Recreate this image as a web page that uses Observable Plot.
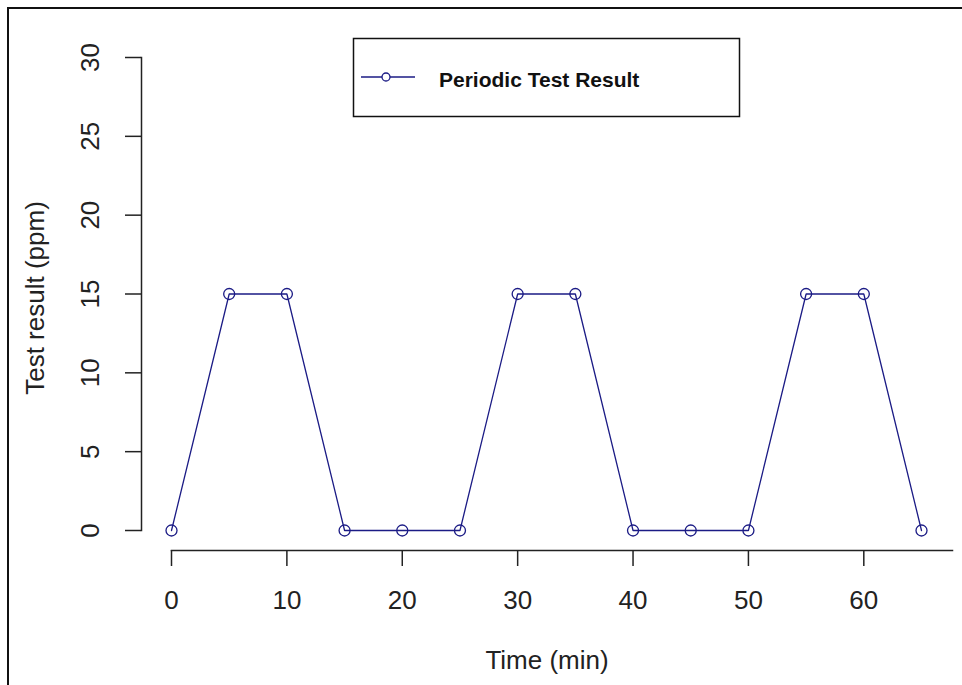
<!DOCTYPE html>
<html>
<head>
<meta charset="utf-8">
<script src="https://cdn.jsdelivr.net/npm/d3@7"></script>
<script src="https://cdn.jsdelivr.net/npm/@observablehq/plot@0.6"></script>
<style>
  html, body { margin: 0; padding: 0; background: #fff; }
  #chart svg { display: block; }
</style>
</head>
<body>
<div id="chart"></div>
<script>
const times = [0, 5, 10, 15, 20, 25, 30, 35, 40, 45, 50, 55, 60, 65];
const results = [0, 15, 15, 0, 0, 0, 15, 15, 0, 0, 0, 15, 15, 0];
const xTicks = [0, 10, 20, 30, 40, 50, 60];
const yTicks = [0, 5, 10, 15, 20, 25, 30];
const xLabel = "Time (min)";
const yLabel = "Test result (ppm)";
const seriesName = "Periodic Test Result";

const data = times.map((t, i) => ({time: t, result: results[i]}));
const lineColor = "#1b1b85";
const ink = "#222";

function border(index, scales, values, dims) {
  const g = d3.create("svg:g");
  g.append("path")
    .attr("d", `M8,${dims.height} V8 H${dims.width}`)
    .attr("fill", "none")
    .attr("stroke", "#111")
    .attr("stroke-width", 2);
  return g.node();
}

function legend(index, scales, values, dims) {
  const g = d3.create("svg:g");
  g.append("rect")
    .attr("x", 353.5).attr("y", 38.5).attr("width", 386).attr("height", 78)
    .attr("fill", "white").attr("stroke", "#111").attr("stroke-width", 1.5);
  g.append("line")
    .attr("x1", 361).attr("x2", 415).attr("y1", 77).attr("y2", 77)
    .attr("stroke", lineColor).attr("stroke-width", 1.5);
  g.append("circle")
    .attr("cx", 386).attr("cy", 77).attr("r", 4)
    .attr("fill", "white").attr("stroke", lineColor).attr("stroke-width", 1.3);
  g.append("text")
    .attr("x", 439).attr("y", 81)
    .attr("text-anchor", "start")
    .attr("font-weight", "bold").attr("font-size", 21)
    .attr("dominant-baseline", "middle")
    .attr("fill", "#111")
    .text(seriesName);
  return g.node();
}

const chart = Plot.plot({
  width: 962,
  height: 685,
  marginLeft: 141,
  marginRight: 10,
  marginTop: 57,
  marginBottom: 135,
  x: {domain: [0, 65], range: [171, 921]},
  y: {domain: [0, 30], range: [530, 57]},
  style: {fontFamily: "'Liberation Sans', Arial, sans-serif", fontSize: "26px", color: ink, background: "white", overflow: "visible"},
  marks: [
    border,
    Plot.frame({anchor: "bottom", insetLeft: 30, stroke: ink, strokeWidth: 1.5}),
    Plot.frame({anchor: "left", insetBottom: 20, stroke: ink, strokeWidth: 1.5}),
    Plot.axisX(xTicks, {anchor: "bottom", tickSize: 16, tickPadding: 24, label: null, stroke: ink, strokeWidth: 1.5, fill: ink}),
    Plot.axisY(yTicks, {anchor: "left", tickSize: 16, tickFormat: () => "", label: null, stroke: ink, strokeWidth: 1.5}),
    Plot.text(yTicks, {y: d => d, text: d => String(d), frameAnchor: "left", textAnchor: "middle", dx: -51, rotate: -90, fill: ink}),
    Plot.text([xLabel], {text: d => d, frameAnchor: "bottom", dy: 118, fill: ink}),
    Plot.text([yLabel], {text: d => d, frameAnchor: "left", textAnchor: "middle", dx: -106, dy: -6, rotate: -90, fill: ink}),
    Plot.line(data, {x: "time", y: "result", stroke: lineColor, strokeWidth: 1.3}),
    Plot.dot(data, {x: "time", y: "result", r: 5.5, stroke: lineColor, strokeWidth: 1.3, fill: "none"}),
    legend
  ]
});
document.getElementById("chart").appendChild(chart);
</script>
</body>
</html>
